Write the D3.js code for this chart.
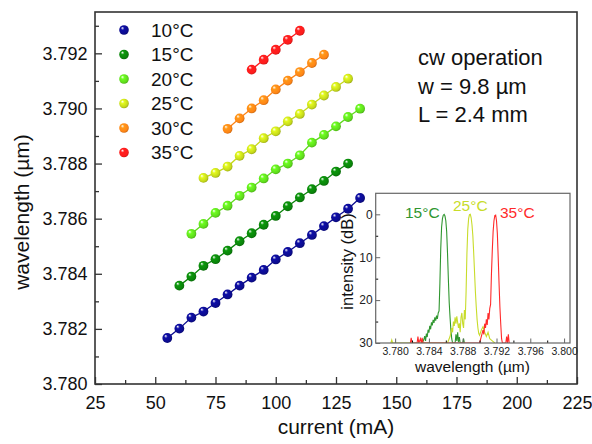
<!DOCTYPE html>
<html><head><meta charset="utf-8">
<script src="https://cdn.jsdelivr.net/npm/d3@7"></script>
<style>body{margin:0;background:#fff} svg{display:block;font-family:"Liberation Sans",Arial,sans-serif}</style>
</head><body><svg id="c" width="592" height="444"></svg>
<script>
// ---------- data ----------
const temps = ["10°C","15°C","20°C","25°C","30°C","35°C"];
const colors = ["#0c0c90","#0a840a","#5fdc1c","#c5d91a","#ff8516","#ff1c1c"];

const current10 = [55,60,65,70,75,80,85,90,95,100,105,110,115,120,125,130,135];
const wl10 = [3.78167,3.78201,3.78241,3.78263,3.78294,3.78325,3.78357,3.78386,3.78414,3.78452,3.78479,3.78511,3.78541,3.78573,3.78605,3.78636,3.78675];
const current15 = [60,65,70,75,80,85,90,95,100,105,110,115,120,125,130];
const wl15 = [3.78357,3.78390,3.78429,3.78453,3.78484,3.78518,3.78547,3.78578,3.78610,3.78645,3.78677,3.78707,3.78737,3.78771,3.78800];
const current20 = [65,70,75,80,85,90,95,100,105,110,115,120,125,130,135];
const wl20 = [3.78545,3.78581,3.78621,3.78647,3.78683,3.78713,3.78746,3.78779,3.78800,3.78830,3.78876,3.78904,3.78935,3.78969,3.78999];
const current25 = [70,75,80,85,90,95,100,105,110,115,120,125,130];
const wl25 = [3.78748,3.78766,3.78789,3.78828,3.78852,3.78892,3.78917,3.78953,3.78980,3.79014,3.79047,3.79078,3.79108];
const current30 = [80,85,90,95,100,105,110,115,120];
const wl30 = [3.78926,3.78964,3.79000,3.79030,3.79069,3.79101,3.79132,3.79165,3.79195];
const current35 = [90,95,100,105,110];
const wl35 = [3.79141,3.79177,3.79213,3.79249,3.79282];

const xTicks = [25,50,75,100,125,150,175,200,225];
const yTicks = [3.780,3.782,3.784,3.786,3.788,3.790,3.792];
const noteLines = ["cw operation","w = 9.8 µm","L = 2.4 mm"];

// inset spectra (wavelength µm, intensity dB)
const spec15wl = [3.7832,3.7834,3.7835,3.7836,3.7837,3.7838,3.7839,3.7840,3.7841,3.7842,3.7843,3.7844,3.7845,3.7846,3.7847,3.7848,3.7849,3.7850,3.7851,3.7852,3.7853,3.7854,3.7855,3.7856,3.7857,3.7858,3.7859,3.7860,3.7861,3.7862,3.7863,3.7864,3.7865,3.7866,3.7867,3.7868,3.7871,3.7872,3.7873,3.7874,3.7875,3.7876,3.7877,3.7880,3.7881,3.7882];
const spec15db = [30,29.2,28.4,29.5,27.8,28.6,26.9,27.6,26.0,26.8,25.2,25.9,24.6,25.3,24.0,24.8,23.6,24.4,23.0,22.5,16,8,3,1,0.2,0,0.4,1.5,4,9,15,20.5,24,27,29,30,30,28.0,29.5,27.5,29.8,28.6,30,30,29.0,30];
const spec25wl = [3.7795,3.7796,3.7797,3.7862,3.7865,3.7867,3.7868,3.7869,3.7870,3.7871,3.7872,3.7873,3.7874,3.7875,3.7876,3.7877,3.7878,3.7879,3.7880,3.7881,3.7882,3.7883,3.7884,3.7885,3.7886,3.7887,3.7888,3.7889,3.7890,3.7891,3.7892,3.7893,3.7894,3.7895,3.7896,3.7897,3.7898,3.7899,3.7900,3.7902,3.7904,3.7906,3.7908,3.7910,3.7912,3.7915,3.7918];
const spec25db = [30,29.3,30,30,28.5,26.5,27.5,25.0,26.0,24.0,25.5,23.8,25.2,26.5,25.4,27.5,24.0,23.0,25.5,26.5,22.3,24.5,18.0,9.0,3.5,1.0,0.1,0.0,0.8,2.5,5.0,9.0,13.5,18.0,21.5,24.5,26.5,27.8,28.2,27.0,26.2,27.5,28.5,27.5,29.0,29.5,30];
const spec35wl = [3.7818,3.7819,3.7820,3.7826,3.7827,3.7828,3.7830,3.7831,3.7832,3.7833,3.7900,3.7902,3.7904,3.7905,3.7906,3.7907,3.7908,3.7909,3.7910,3.7911,3.7912,3.7913,3.7914,3.7915,3.7916,3.7917,3.7918,3.7919,3.7920,3.7921,3.7922,3.7923,3.7924,3.7925,3.7926,3.7927,3.7931,3.7932,3.7933,3.7934,3.7935];
const spec35db = [30,28.8,30,30,28.5,30,29.0,30,28.8,30,30,28.5,27.0,28.0,25.5,26.5,24.5,25.8,23.0,24.5,22.0,21.0,14.0,8.5,4.0,1.5,0.3,0.2,1.5,4.5,10.0,16.0,21.5,25.5,29.0,30,30,28.5,30,28.0,30];
const insetLabels = ["15°C","25°C","35°C"];
const insetColors = ["#2f962f","#c8dc2a","#ff2a2a"];
const insetXTicks = [3.780,3.784,3.788,3.792,3.796,3.800];
const insetYTicks = [0,10,20,30];

// ---------- chart ----------
const svg = d3.select("#c");
const W = {l:95, r:577, t:12, b:384};
const x = d3.scaleLinear([25,225],[W.l,W.r]);
const y = d3.scaleLinear([3.780,3.7935],[W.b,W.t]);

const defs = svg.append("defs");
colors.forEach((c,i)=>{
  const g = defs.append("radialGradient").attr("id","g"+i)
    .attr("cx","45%").attr("cy","45%").attr("r","60%").attr("fx","32%").attr("fy","28%");
  g.append("stop").attr("offset","0%").attr("stop-color","#ffffff");
  g.append("stop").attr("offset","30%").attr("stop-color",d3.color(c).brighter(0.4));
  g.append("stop").attr("offset","75%").attr("stop-color",c);
  g.append("stop").attr("offset","100%").attr("stop-color",d3.color(c).darker(0.8));
});

const axC = "#333";
const xMinor = d3.range(25+12.5,225,25);
const yMinor = d3.range(3.781,3.7935,0.002);
svg.append("g").attr("transform",`translate(0,${W.b})`)
  .call(d3.axisBottom(x).tickValues(xMinor).tickSize(-4).tickFormat(""))
  .call(g=>g.select(".domain").remove());
svg.append("g").attr("transform",`translate(${W.l},0)`)
  .call(d3.axisLeft(y).tickValues(yMinor).tickSize(-4).tickFormat(""))
  .call(g=>g.select(".domain").remove());
const gx = svg.append("g").attr("transform",`translate(0,${W.b})`)
  .call(d3.axisBottom(x).tickValues(xTicks).tickSize(-7).tickPadding(12).tickFormat(d3.format("d")));
gx.select(".domain").remove();
gx.selectAll("text").attr("font-size",18).attr("fill","#111").attr("font-family",'"Liberation Sans",Arial,sans-serif');
const gy = svg.append("g").attr("transform",`translate(${W.l},0)`)
  .call(d3.axisLeft(y).tickValues(yTicks).tickSize(-7).tickPadding(7.5).tickFormat(d3.format(".3f")));
gy.select(".domain").remove();
gy.selectAll("text").attr("font-size",18).attr("fill","#111").attr("font-family",'"Liberation Sans",Arial,sans-serif');
svg.selectAll(".tick line").attr("stroke",axC).attr("stroke-width",1.3);

svg.append("rect").attr("x",W.l).attr("y",W.t).attr("width",W.r-W.l).attr("height",W.b-W.t)
  .attr("fill","none").attr("stroke",axC).attr("stroke-width",1.6);

svg.append("text").attr("x",(W.l+W.r)/2).attr("y",434).attr("text-anchor","middle")
  .attr("font-size",21).attr("fill","#111").text("current (mA)");
svg.append("text").attr("transform","translate(29,212) rotate(-90)").attr("text-anchor","middle")
  .attr("font-size",21).attr("fill","#111").text("wavelength (µm)");

// series
const series = [
  [current10,wl10],[current15,wl15],[current20,wl20],
  [current25,wl25],[current30,wl30],[current35,wl35]
];
const line = d3.line().x(d=>x(d[0])).y(d=>y(d[1]));
series.forEach(([cs,ws],i)=>{
  const pts = cs.map((c,j)=>[c,ws[j]]);
  svg.append("path").datum(pts).attr("d",line).attr("fill","none")
    .attr("stroke",colors[i]).attr("stroke-width",1.3);
  svg.append("g").selectAll("circle").data(pts).join("circle")
    .attr("cx",d=>x(d[0])).attr("cy",d=>y(d[1])).attr("r",4.9)
    .attr("fill",`url(#g${i})`);
});

// legend
temps.forEach((t,i)=>{
  const yy = 30 + i*24.5;
  svg.append("circle").attr("cx",124).attr("cy",yy).attr("r",4.8).attr("fill",`url(#g${i})`);
  svg.append("text").attr("x",151).attr("y",yy+6.8).attr("font-size",19).attr("fill","#111").text(t);
});

// note
noteLines.forEach((t,i)=>{
  svg.append("text").attr("x",418).attr("y",65+i*28.5).attr("font-size",22).attr("fill","#111").text(t);
});

// ---------- inset ----------
const I = {l:375.7, r:570, t:193.3, b:343};
const xi = d3.scaleLinear([3.7777,3.8007],[I.l,I.r]);
const yi = d3.scaleLinear([-4.9,30],[I.t,I.b]);
svg.append("rect").attr("x",I.l).attr("y",I.t).attr("width",I.r-I.l).attr("height",I.b-I.t).attr("fill","#fff");
defs.append("clipPath").attr("id","ic").append("rect")
  .attr("x",I.l).attr("y",I.t).attr("width",I.r-I.l).attr("height",I.b-I.t);
const specs = [[spec15wl,spec15db],[spec25wl,spec25db],[spec35wl,spec35db]];
const iline = d3.line().x(d=>xi(d[0])).y(d=>yi(d[1]));
const gi = svg.append("g").attr("clip-path","url(#ic)");
specs.forEach(([ws,ds],i)=>{
  gi.append("path").datum(ws.map((w,j)=>[w,ds[j]])).attr("d",iline)
    .attr("fill","none").attr("stroke",insetColors[i]).attr("stroke-width",1.1);
});
const iAx = "#666";
const ixMinor = d3.range(3.782,3.8,0.004);
const iyMinor = [5,15,25];
svg.append("g").attr("transform",`translate(0,${I.b})`)
  .call(d3.axisBottom(xi).tickValues(ixMinor).tickSize(-2.5).tickFormat(""))
  .call(g=>g.select(".domain").remove());
svg.append("g").attr("transform",`translate(${I.l},0)`)
  .call(d3.axisLeft(yi).tickValues(iyMinor).tickSize(-2.5).tickFormat(""))
  .call(g=>g.select(".domain").remove());
const gix = svg.append("g").attr("transform",`translate(0,${I.b})`)
  .call(d3.axisBottom(xi).tickValues(insetXTicks).tickSize(-4.5).tickPadding(4.5).tickFormat(d3.format(".3f")));
gix.select(".domain").remove();
gix.selectAll("text").attr("font-size",10.5).attr("fill","#222").attr("font-family",'"Liberation Sans",Arial,sans-serif');
const giy = svg.append("g").attr("transform",`translate(${I.l},0)`)
  .call(d3.axisLeft(yi).tickValues(insetYTicks).tickSize(-4.5).tickPadding(3).tickFormat(d3.format("d")));
giy.select(".domain").remove();
giy.selectAll("text").attr("font-size",12).attr("fill","#222").attr("font-family",'"Liberation Sans",Arial,sans-serif');
[gix,giy].forEach(g=>g.selectAll(".tick line").attr("stroke",iAx).attr("stroke-width",1));
svg.append("rect").attr("x",I.l).attr("y",I.t).attr("width",I.r-I.l).attr("height",I.b-I.t)
  .attr("fill","none").attr("stroke",iAx).attr("stroke-width",1.2);
svg.append("text").attr("x",472.5).attr("y",372).attr("text-anchor","middle")
  .attr("font-size",15.5).attr("fill","#111").text("wavelength (µm)");
svg.append("text").attr("transform","translate(353,261.5) rotate(-90)").attr("text-anchor","middle")
  .attr("font-size",16.5).attr("fill","#111").text("intensity (dB)");
const ilPos = [[405,218],[453,210.5],[500,218]];
insetLabels.forEach((t,i)=>{
  svg.append("text").attr("x",ilPos[i][0]).attr("y",ilPos[i][1]).attr("font-size",15.5)
    .attr("fill",insetColors[i]).text(t);
});
</script></body></html>
